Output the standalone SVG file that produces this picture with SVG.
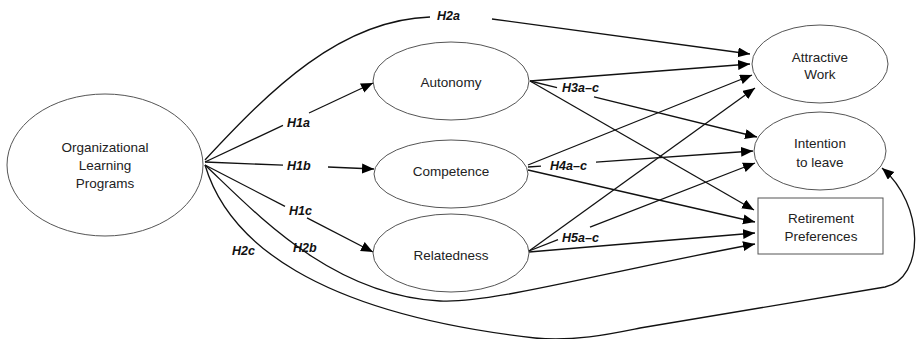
<svg xmlns="http://www.w3.org/2000/svg" width="920" height="339" viewBox="0 0 920 339">
<style>
  .node { fill: #fff; stroke: #555; stroke-width: 1; }
  .ntext { font-family: "Liberation Sans", Arial, sans-serif; font-size: 13.5px; fill: #222; text-anchor: middle; }
  .lbl { font-family: "Liberation Sans", Arial, sans-serif; font-size: 12.5px; font-weight: bold; font-style: italic; fill: #111; }
  .c { fill: none; stroke: #111; stroke-width: 1.3; }
  .a { marker-end: url(#arrow); }
</style>
<defs>
  <marker id="arrow" markerUnits="userSpaceOnUse" markerWidth="13" markerHeight="11" refX="12" refY="5" orient="auto">
    <path d="M0,0 L12,5 L0,10 z" fill="#000"/>
  </marker>
</defs>
<rect width="920" height="339" fill="#fff"/>

<g id="connectors">
  <!-- H2a -->
  <path class="c" d="M205,160 C270,90 340,20 430,17"/>
  <line class="c a" x1="492" y1="19" x2="750" y2="54"/>
  <!-- H1a -->
  <line class="c" x1="205" y1="162" x2="283" y2="125.3"/>
  <line class="c a" x1="309" y1="113" x2="373" y2="83"/>
  <!-- H1b -->
  <line class="c" x1="205" y1="162" x2="283" y2="165.2"/>
  <line class="c a" x1="328" y1="167" x2="374" y2="169"/>
  <!-- H1c -->
  <line class="c" x1="205" y1="165" x2="285" y2="206.4"/>
  <line class="c a" x1="307" y1="217.8" x2="373" y2="252"/>
  <!-- H2b -->
  <path class="c a" d="M205,165 C255,212 330,295 440,301 C490,304 600,273 755,244"/>
  <!-- H2c -->
  <path class="c a" d="M205,165 C228,242 315,313 535,338 C575,342 615,333 640,328 L885,287 C925,278 925,205 882,168"/>

  <!-- Autonomy -->
  <line class="c a" x1="530" y1="81" x2="750" y2="64"/>
  <line class="c" x1="530" y1="81" x2="557" y2="87.7"/>
  <line class="c a" x1="594" y1="96.8" x2="757" y2="137"/>
  <line class="c a" x1="530" y1="81" x2="754" y2="210"/>

  <!-- Competence -->
  <line class="c a" x1="528" y1="165" x2="752" y2="75"/>
  <line class="c" x1="528" y1="167" x2="541" y2="166.1"/>
  <line class="c a" x1="596" y1="162.2" x2="753" y2="151"/>
  <line class="c a" x1="528" y1="170" x2="755" y2="222"/>

  <!-- Relatedness -->
  <line class="c a" x1="529" y1="251" x2="755" y2="88"/>
  <line class="c" x1="529" y1="251" x2="558" y2="239.7"/>
  <line class="c a" x1="590" y1="227.2" x2="755" y2="163"/>
  <line class="c a" x1="529" y1="252" x2="755" y2="233"/>

  <!-- labels -->
  <text class="lbl" x="437" y="20">H2a</text>
  <text class="lbl" x="287" y="127">H1a</text>
  <text class="lbl" x="287" y="170">H1b</text>
  <text class="lbl" x="289" y="215">H1c</text>
  <text class="lbl" x="293" y="252">H2b</text>
  <text class="lbl" x="232" y="255">H2c</text>
  <text class="lbl" x="562" y="92">H3a–c</text>
  <text class="lbl" x="550" y="170">H4a–c</text>
  <text class="lbl" x="562" y="242">H5a–c</text>
</g>

<g id="olp">
  <ellipse class="node" cx="105" cy="165" rx="98" ry="71"/>
  <text class="ntext" x="105" y="152">Organizational</text>
  <text class="ntext" x="105" y="170">Learning</text>
  <text class="ntext" x="105" y="188">Programs</text>
</g>
<g id="autonomy">
  <ellipse class="node" cx="451" cy="81" rx="78" ry="39"/>
  <text class="ntext" x="451" y="87">Autonomy</text>
</g>
<g id="competence">
  <ellipse class="node" cx="451" cy="174" rx="77" ry="34"/>
  <text class="ntext" x="451" y="176">Competence</text>
</g>
<g id="relatedness">
  <ellipse class="node" cx="451" cy="253" rx="78" ry="39"/>
  <text class="ntext" x="451" y="260">Relatedness</text>
</g>
<g id="attractive-work">
  <ellipse class="node" cx="820" cy="64" rx="68" ry="39"/>
  <text class="ntext" x="820" y="62">Attractive</text>
  <text class="ntext" x="820" y="79">Work</text>
</g>
<g id="intention-to-leave">
  <ellipse class="node" cx="820" cy="151" rx="66" ry="39"/>
  <text class="ntext" x="820" y="148">Intention</text>
  <text class="ntext" x="820" y="167">to leave</text>
</g>
<g id="retirement-preferences">
  <rect class="node" x="758" y="198" width="125" height="56"/>
  <text class="ntext" x="821" y="223">Retirement</text>
  <text class="ntext" x="821" y="241">Preferences</text>
</g>
</svg>
